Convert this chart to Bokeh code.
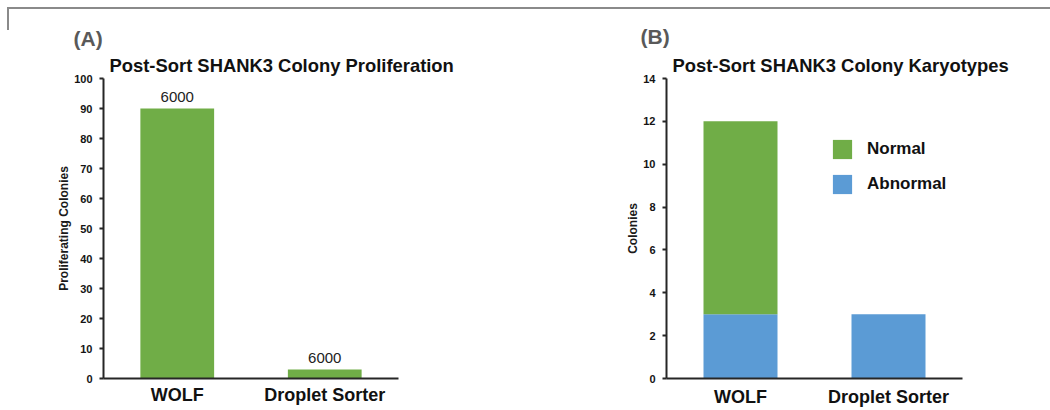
from bokeh.plotting import figure
from bokeh.models import (FixedTicker, Title, LabelSet, ColumnDataSource, Legend, LegendItem,
                          InlineStyleSheet)
from bokeh.core.properties import value
from bokeh.layouts import row
from bokeh.embed import file_html
from bokeh.resources import INLINE

# ---------------- data ----------------
categories = ["WOLF", "Droplet Sorter"]
proliferating = [90, 3]
bar_labels = ["6000", "6000"]
ticks_a = [0, 10, 20, 30, 40, 50, 60, 70, 80, 90, 100]

karyo_abnormal = [3, 3]
karyo_normal = [9, 0]
ticks_b = [0, 2, 4, 6, 8, 10, 12, 14]

GREEN = "#70AD47"
BLUE = "#5B9BD5"
FONT = "Liberation Sans"


def style_axes(p, ticks, ylabel, xstandoff):
    p.xgrid.visible = False
    p.ygrid.visible = False
    p.outline_line_color = None
    p.yaxis.ticker = FixedTicker(ticks=ticks)
    p.yaxis.axis_label = ylabel
    p.yaxis.axis_label_text_font = FONT
    p.yaxis.axis_label_text_font_style = "bold"
    p.yaxis.axis_label_text_font_size = "12px"
    p.yaxis.axis_label_text_color = "#1a1a1a"
    p.yaxis.axis_label_standoff = 0
    p.yaxis.major_label_text_font = FONT
    p.yaxis.major_label_text_font_style = "bold"
    p.yaxis.major_label_text_font_size = "11px"
    p.yaxis.major_label_text_color = "#141414"
    p.yaxis.major_label_standoff = 7
    p.yaxis.major_tick_out = 4
    p.yaxis.major_tick_in = 0
    p.yaxis.minor_tick_out = 0
    p.yaxis.minor_tick_in = 0
    p.yaxis.axis_line_width = 2
    p.yaxis.axis_line_color = "#262626"
    p.yaxis.major_tick_line_width = 2
    p.yaxis.major_tick_line_color = "#262626"
    p.xaxis.major_label_text_font = FONT
    p.xaxis.major_label_text_font_style = "bold"
    p.xaxis.major_label_text_font_size = "18px"
    p.xaxis.major_label_text_color = "#111111"
    p.xaxis.major_label_standoff = xstandoff
    p.xaxis.major_tick_out = 0
    p.xaxis.major_tick_in = 0
    p.xaxis.minor_tick_out = 0
    p.xaxis.axis_line_width = 2
    p.xaxis.axis_line_color = "#262626"


def add_titles(p, main, tag, tag_offset, tag_standoff):
    t1 = Title(text=main, text_font=FONT, text_font_style="bold", text_font_size="18.4px",
               text_color="#111111", align="left", offset=6, standoff=6)
    t2 = Title(text=tag, text_font=FONT, text_font_style="bold", text_font_size="21px",
               text_color="#595959", align="left", offset=tag_offset, standoff=tag_standoff)
    p.add_layout(t1, "above")
    p.add_layout(t2, "above")


# ---------------- panel A ----------------
p1 = figure(width=528, height=410, x_range=categories, y_range=(0, 100),
            output_backend="svg", toolbar_location=None, title=None,
            min_border_left=103, min_border_right=130, min_border_top=75, min_border_bottom=32)
p1.x_range.range_padding = 0
src_a = ColumnDataSource(dict(cat=categories, val=proliferating, lab=bar_labels))
p1.vbar(x="cat", top="val", width=0.5, source=src_a, fill_color=GREEN, line_color=None)
p1.add_layout(LabelSet(x="cat", y="val", text="lab", source=src_a, y_offset=7,
                       text_align="center", text_baseline="alphabetic",
                       text_font=value(FONT), text_font_size="15px", text_color="#222222"))
style_axes(p1, ticks_a, "Proliferating Colonies", 6)
add_titles(p1, "Post-Sort SHANK3 Colony Proliferation", "(A)", -30, 0)

# ---------------- panel B ----------------
p2 = figure(width=522, height=410, x_range=categories, y_range=(0, 14),
            output_backend="svg", toolbar_location=None, title=None,
            min_border_left=138, min_border_right=88, min_border_top=78, min_border_bottom=29)
p2.x_range.range_padding = 0
src_b = ColumnDataSource(dict(cat=categories, Abnormal=karyo_abnormal, Normal=karyo_normal))
rs = p2.vbar_stack(["Abnormal", "Normal"], x="cat", width=0.5, source=src_b,
                   fill_color=[BLUE, GREEN], line_color=None)
style_axes(p2, ticks_b, "Colonies", 8)
add_titles(p2, "Post-Sort SHANK3 Colony Karyotypes", "(B)", -26, 4)

legend = Legend(items=[LegendItem(label="Normal", renderers=[rs[1]]),
                       LegendItem(label="Abnormal", renderers=[rs[0]])],
                location=(164, 182), orientation="vertical",
                glyph_width=24, glyph_height=24, spacing=11, padding=0, margin=0,
                label_standoff=13, label_text_font=FONT, label_text_font_style="bold",
                label_text_font_size="17px", label_text_color="#111111",
                label_text_baseline="alphabetic",
                border_line_color=None, background_fill_alpha=0)
p2.add_layout(legend, "center")

frame_css = InlineStyleSheet(css="""
:host { position: relative; }
:host::before { content: ""; position: absolute; left: 7px; top: 7px; right: 0; height: 2px;
                background: #8a8a8a; z-index: 5; }
:host::after { content: ""; position: absolute; left: 7px; top: 7px; width: 2px; height: 23px;
               background: #8a8a8a; z-index: 5; }
""")
layout = row(p1, p2, stylesheets=[frame_css])

open("out.html", "w").write(file_html(layout, INLINE))
